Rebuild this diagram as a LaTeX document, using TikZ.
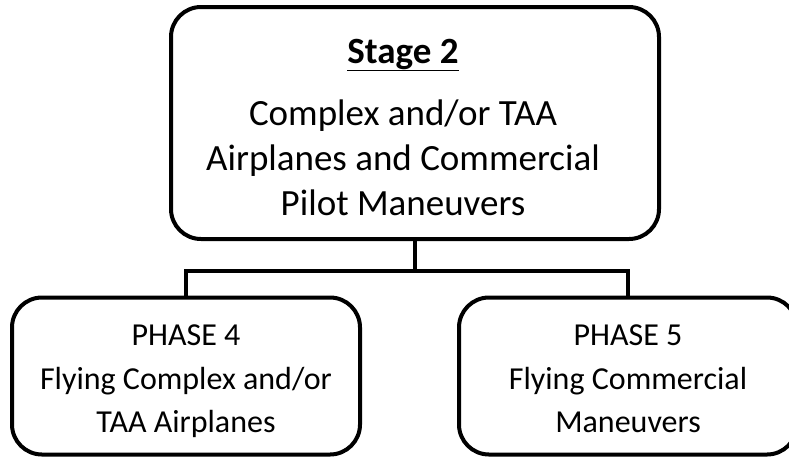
\documentclass[tikz,border=0pt]{standalone}
\usepackage{fontspec}
\setmainfont{Carlito}
\usetikzlibrary{trees}

\begin{document}
\begin{tikzpicture}
      [sibling distance=442pt,level distance=253pt,
      every node/.style={shape=rectangle,draw,line width=4pt,rounded corners=30pt,align=center},
      edge from parent/.style={draw,line width=4pt},
      edge from parent path={(\tikzparentnode.south) -- +(0,-29.5pt) -| (\tikzchildnode.north)},
      font=\fontsize{32}{43.5}\selectfont]
\useasboundingbox (0,0) rectangle (789pt,-456pt);
\node (stage) at (415pt,-123pt) [minimum width=488pt,minimum height=232pt]{}
    child{node (phase4) [xshift=-8pt,minimum width=348pt,minimum height=157pt]{\rule{0pt}{39pt}PHASE 4\\Flying Complex and/or\\TAA Airplanes\rule[-13pt]{0pt}{13pt}}}
    child{node (phase5) [xshift=-8pt,minimum width=338pt,minimum height=157pt]{\rule{0pt}{39pt}PHASE 5\\Flying Commercial\\Maneuvers\rule[-13pt]{0pt}{13pt}}};
\node (stagetext) at ([xshift=-12pt]stage.center) [draw=none,font=\fontsize{37}{45}\selectfont]
    {\rule{0pt}{42pt}\underline{\textbf{Stage 2}}\\[17pt]Complex and/or TAA\\Airplanes and Commercial\\Pilot Maneuvers\rule[-10pt]{0pt}{10pt}};
\end{tikzpicture}
\end{document}
